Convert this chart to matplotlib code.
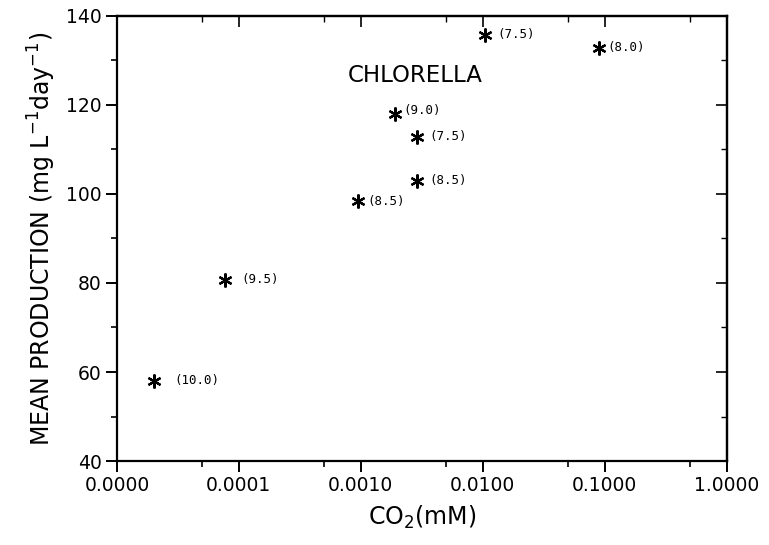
import matplotlib
matplotlib.use('Agg')
import matplotlib.pyplot as plt

# CO2 (mM) vs mean production, labels are pH
co2 = [0.00002, 0.000077, 0.00095, 0.0019, 0.0029, 0.0029, 0.0105, 0.09]
production = [58.0, 80.7, 98.3, 118.0, 112.8, 103.0, 135.8, 132.8]
ph_labels = ['(10.0)', '(9.5)', '(8.5)', '(9.0)', '(7.5)', '(8.5)', '(7.5)', '(8.0)']
label_dx = [15, 12, 7, 6, 9, 9, 9, 6]
label_dy = [0, 0, 0, 2, 0, 0, 0, 0]

xticks = [1e-5, 1e-4, 1e-3, 1e-2, 1e-1, 1]
xticklabels = ['0.0000', '0.0001', '0.0010', '0.0100', '0.1000', '1.0000']
xminor = [5e-5, 5e-4, 5e-3, 5e-2, 5e-1]
yticks = [40, 60, 80, 100, 120, 140]
yminor = [50, 70, 90, 110, 130]

fig = plt.figure(figsize=(7.69, 5.45), dpi=100)
ax = fig.add_axes([0.152, 0.154, 0.793, 0.817])

ax.plot(co2, production, linestyle='none', marker=(6, 2, 0), markersize=10,
        markeredgewidth=1.6, color='black')
for x, y, t, dx, dy in zip(co2, production, ph_labels, label_dx, label_dy):
    ax.annotate(t, (x, y), xytext=(dx, dy), textcoords='offset points',
                va='center', ha='left', fontsize=9, family='DejaVu Sans Mono')

ax.text(0.00078, 126.5, 'CHLORELLA', fontsize=16.5, ha='left', va='center')

ax.set_xscale('log')
ax.set_xlim(1e-5, 1)
ax.set_ylim(40, 140)
ax.set_xticks(xticks)
ax.set_xticklabels(xticklabels)
ax.set_xticks(xminor, minor=True)
ax.set_xticklabels([], minor=True)
ax.set_yticks(yticks)
ax.set_yticks(yminor, minor=True)

for s in ax.spines.values():
    s.set_linewidth(1.6)

ax.tick_params(axis='both', which='major', direction='out', length=8, width=1.4,
               labelsize=13.5, pad=3)
ax.tick_params(axis='both', which='minor', direction='out', length=4, width=1.2)

# top and right ticks point inward
top = ax.secondary_xaxis('top')
top.set_xticks(xticks)
top.set_xticks(xminor, minor=True)
top.tick_params(which='major', direction='in', length=8, width=1.2, labeltop=False)
top.tick_params(which='minor', direction='in', length=4, width=1.0)
top.spines['top'].set_linewidth(1.6)
right = ax.secondary_yaxis('right')
right.set_yticks(yticks)
right.set_yticks(yminor, minor=True)
right.tick_params(which='major', direction='in', length=8, width=1.2, labelright=False)
right.tick_params(which='minor', direction='in', length=4, width=1.0)
right.spines['right'].set_linewidth(1.6)

ax.set_xlabel('CO$_2$(mM)', fontsize=17, labelpad=6)
ax.set_ylabel('MEAN PRODUCTION (mg L$^{-1}$day$^{-1}$)', fontsize=17, labelpad=6)

fig.savefig('out.png', dpi=100)
